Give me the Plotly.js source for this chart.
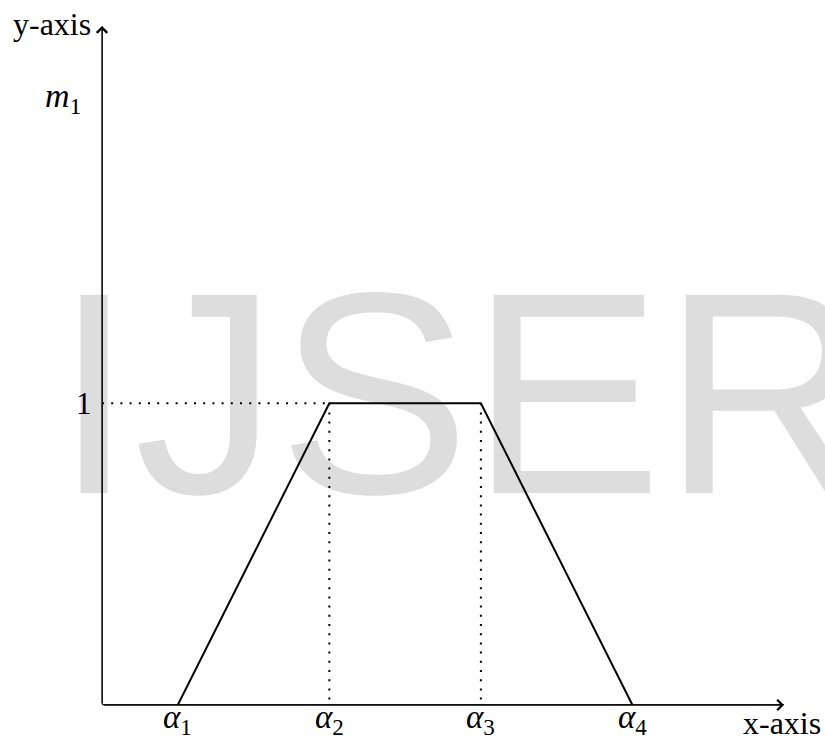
<!DOCTYPE html>
<html><head><meta charset="utf-8">
<script src="https://cdn.plot.ly/plotly-3.0.1.min.js"></script>
<style>
html,body{margin:0;padding:0;background:#fff;}
#wm{position:absolute;left:0;top:0;z-index:0;}
#chart{position:absolute;left:0;top:0;width:825px;height:744px;z-index:1;}
</style></head><body>
<svg id="wm" width="825" height="744"><text x="54" y="493" font-family="Liberation Sans, Arial, sans-serif" font-size="288" fill="#dddddd">IJSER</text></svg>
<div id="chart"></div>
<script>
// ---- data ----
const alphaPos = [0.5, 1.5, 2.5, 3.5];
const alphaLabels = ['<i>α</i><sub>1</sub>', '<i>α</i><sub>2</sub>', '<i>α</i><sub>3</sub>', '<i>α</i><sub>4</sub>'];
const membership = [0, 1, 1, 0];
const yTickVals = [1, 2];
const yTickText = ['1', '<i>m</i><sub>1</sub>'];
const xAxisMax = 4.5;
const yAxisMax = 2.25;
const xAxisTitle = 'x-axis';
const yAxisTitle = 'y-axis';

const FONT = 'Liberation Serif, Times New Roman, serif';
const peak = membership[1];

const trapezoid = {
  x: alphaPos, y: membership, mode: 'lines', type: 'scatter',
  line: {color: '#000', width: 2}, hoverinfo: 'skip', showlegend: false
};
const guides = {
  x: [0, alphaPos[1], null, alphaPos[1], alphaPos[1], null, alphaPos[2], alphaPos[2]],
  y: [peak, peak, null, peak, 0, null, peak, 0],
  mode: 'lines', type: 'scatter', connectgaps: false,
  line: {color: '#000', width: 2, dash: '2px,7.2px'}, hoverinfo: 'skip', showlegend: false
};

const ann = [];
// axis arrows
ann.push({x: xAxisMax, y: 0, ax: 0, ay: 0, xref: 'x', yref: 'y', axref: 'x', ayref: 'y',
  text: '', showarrow: true, arrowhead: 4, arrowsize: 1.55, arrowwidth: 1.3, arrowcolor: '#000', standoff: 0});
ann.push({x: 0, y: yAxisMax, ax: 0, ay: 0, xref: 'x', yref: 'y', axref: 'x', ayref: 'y',
  text: '', showarrow: true, arrowhead: 4, arrowsize: 1.55, arrowwidth: 1.3, arrowcolor: '#000', standoff: 0});
// x tick labels
alphaPos.forEach((p, i) => ann.push({
  x: p, y: 0, xref: 'x', yref: 'y', text: alphaLabels[i], showarrow: false,
  xanchor: 'center', yanchor: 'middle', yshift: -14, font: {family: FONT, size: 33, color: '#000'}
}));
// y tick labels
const yShifts = [{xs: -8, ys: 0}, {xs: -19, ys: 3}];
yTickVals.forEach((v, i) => ann.push({
  x: 0, y: v, xref: 'x', yref: 'y', text: yTickText[i], showarrow: false,
  xanchor: 'right', yanchor: 'middle', xshift: yShifts[i].xs, yshift: yShifts[i].ys,
  font: {family: FONT, size: i === 0 ? 31 : 34, color: '#000'}
}));
// axis titles
ann.push({x: 1, y: 0, xref: 'paper', yref: 'y', text: xAxisTitle, showarrow: false,
  xanchor: 'right', yanchor: 'middle', xshift: 39, yshift: -18, font: {family: FONT, size: 32, color: '#000'}});
ann.push({x: 0, y: yAxisMax, xref: 'x', yref: 'y', text: yAxisTitle, showarrow: false,
  xanchor: 'right', yanchor: 'middle', xshift: -9, yshift: 2, font: {family: FONT, size: 32, color: '#000'}});

const layout = {
  width: 825, height: 744,
  margin: {l: 102, r: 41.25, t: 25.5, b: 39, pad: 0},
  paper_bgcolor: 'rgba(0,0,0,0)', plot_bgcolor: 'rgba(0,0,0,0)',
  xaxis: {range: [0, xAxisMax], visible: false, fixedrange: true},
  yaxis: {range: [0, yAxisMax], visible: false, fixedrange: true},
  shapes: [
    {type: 'line', xref: 'x', yref: 'y', x0: 0, y0: 0, x1: xAxisMax, y1: 0, line: {color: '#000', width: 1.4}, layer: 'above'},
    {type: 'line', xref: 'x', yref: 'y', x0: 0, y0: 0, x1: 0, y1: yAxisMax, line: {color: '#000', width: 1.4}, layer: 'above'}
  ],
  annotations: ann,
  showlegend: false
};

Plotly.newPlot('chart', [trapezoid, guides], layout, {displayModeBar: false, staticPlot: true});
</script>
</body></html>
